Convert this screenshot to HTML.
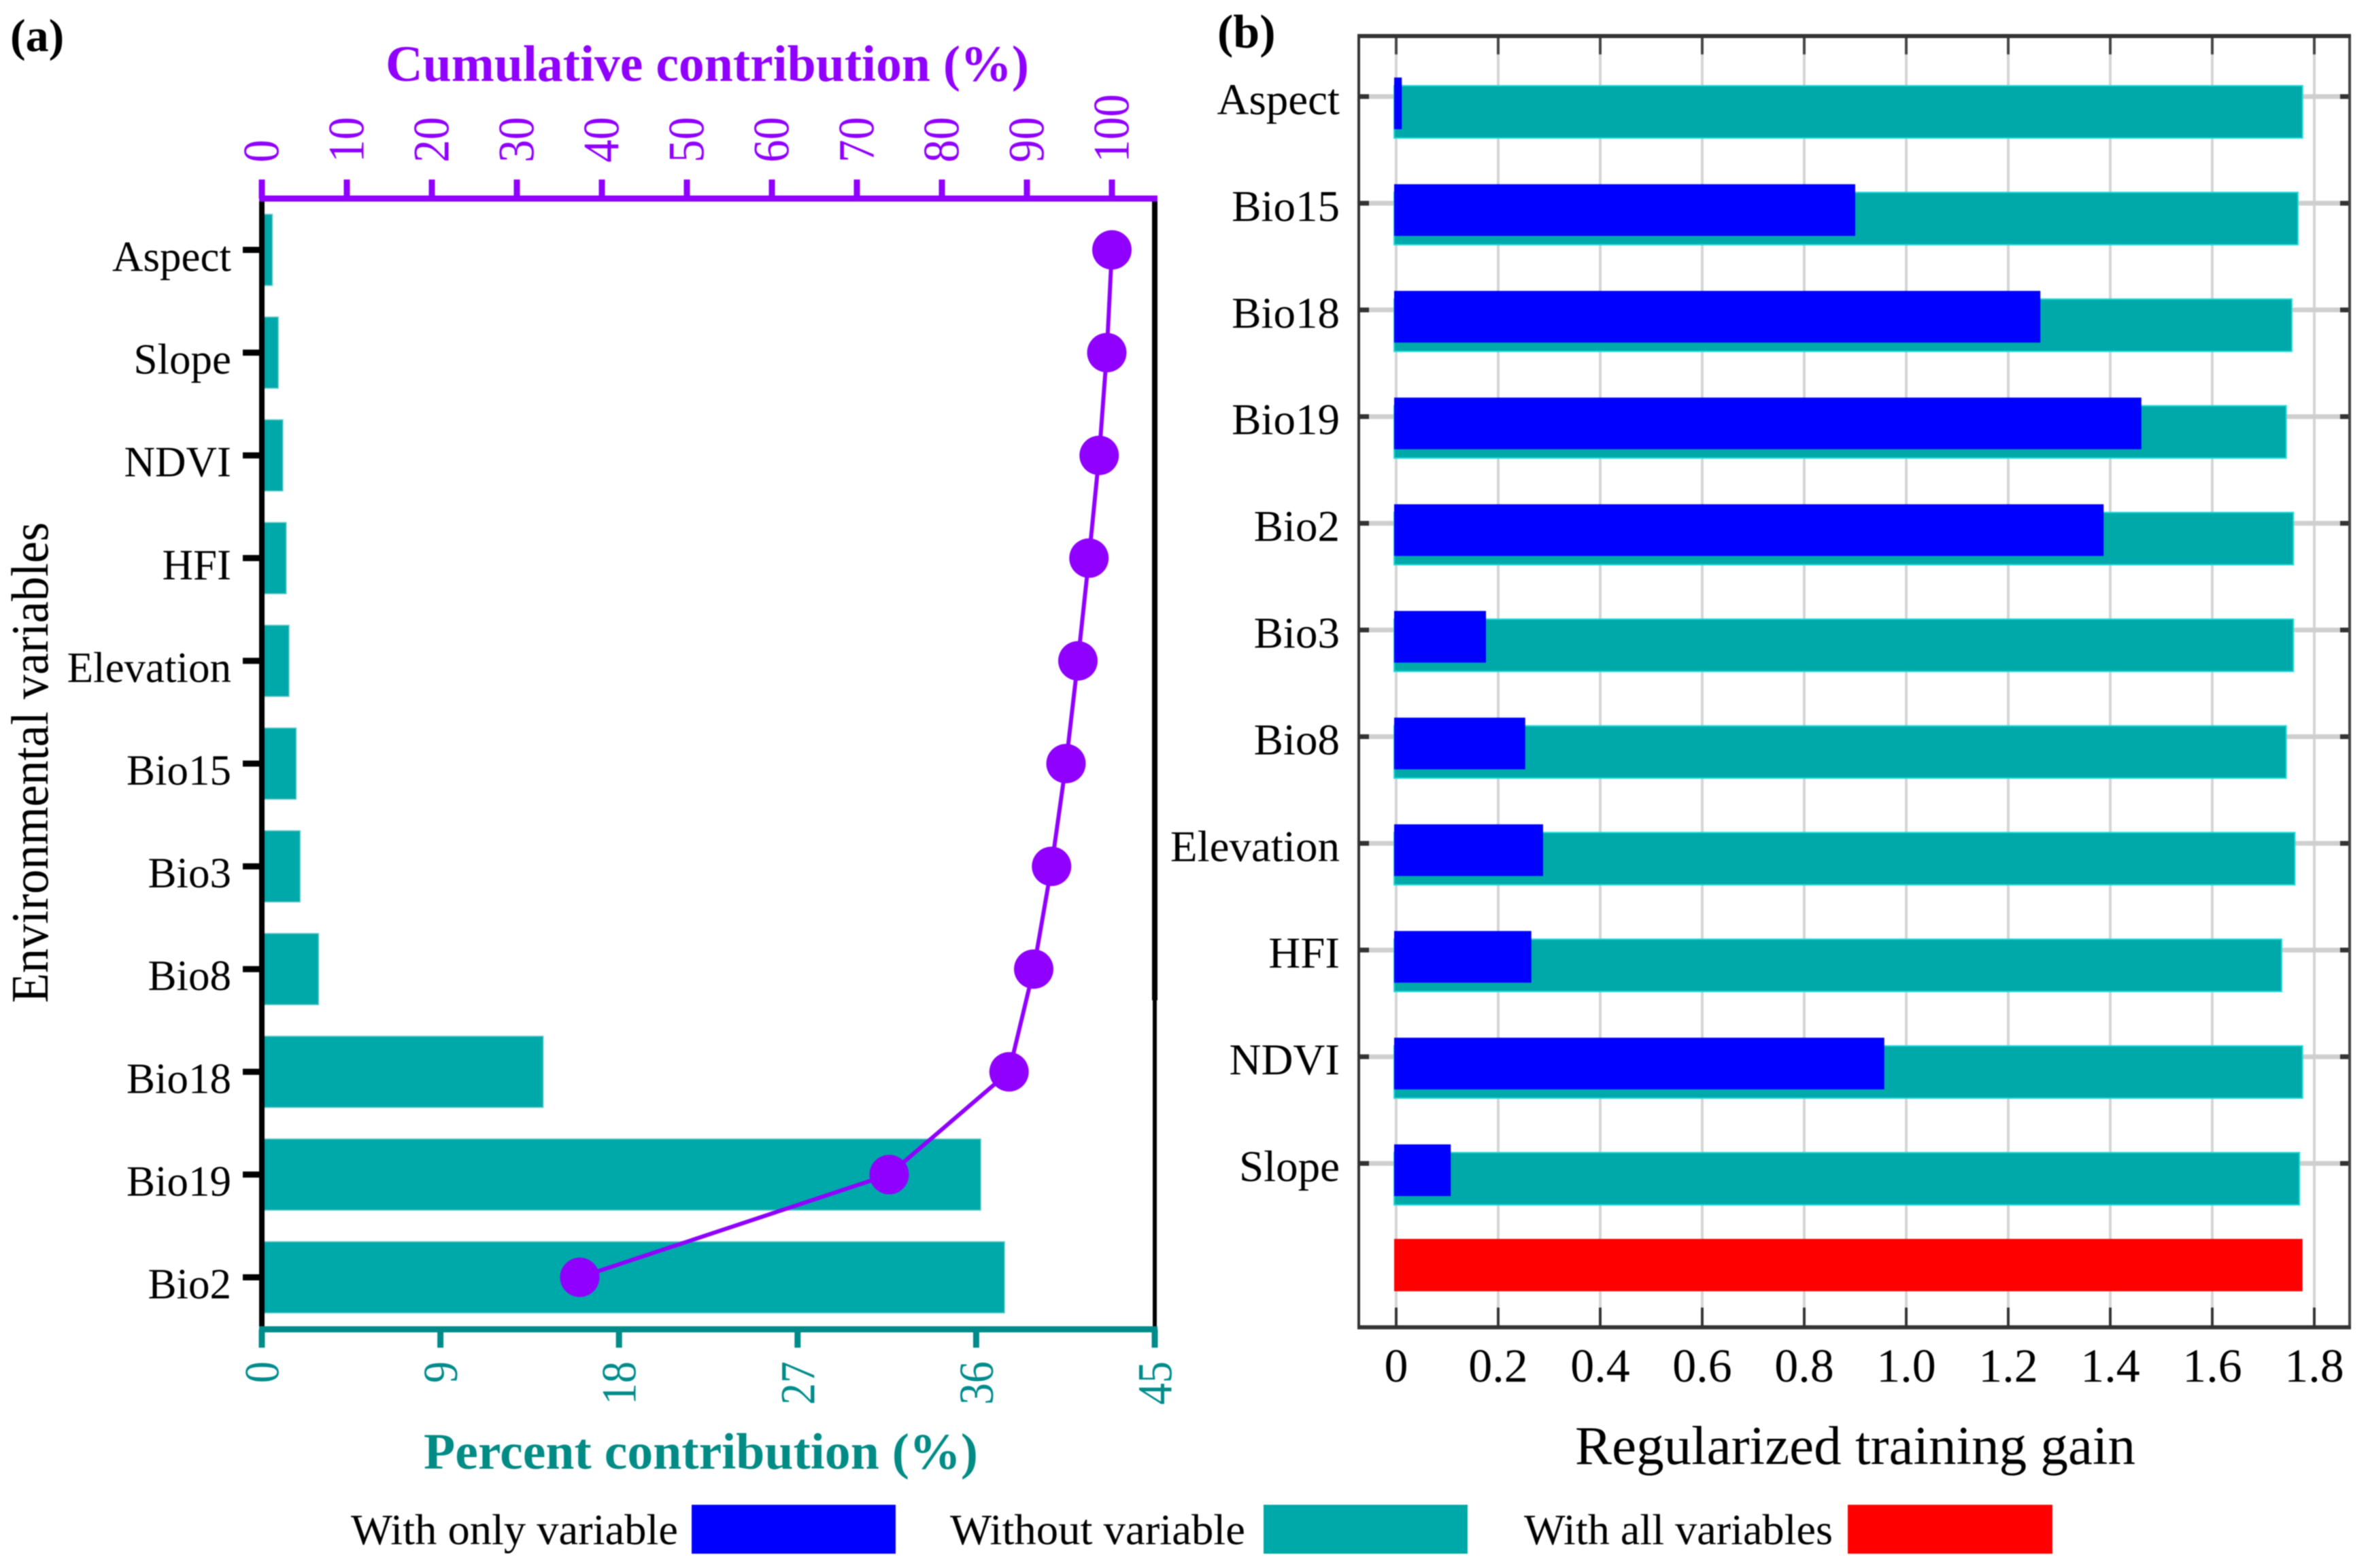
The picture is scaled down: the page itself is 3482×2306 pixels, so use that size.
<!DOCTYPE html>
<html lang="en">
<head>
<meta charset="utf-8">
<title>Environmental variable contribution and jackknife of regularized training gain</title>
<style>
html,body{margin:0;padding:0;background:#fff;width:3482px;height:2306px;overflow:hidden}
svg{display:block;filter:blur(0.9px)}
text{font-family:"Liberation Serif",serif;fill:#000}
</style>
</head>
<body>
<svg id="figure" xmlns="http://www.w3.org/2000/svg" width="3482" height="2306" viewBox="0 0 3482 2306">
  <rect x="0" y="0" width="3482" height="2306" fill="#fff"/>
  <g id="panelA"></g>
  <g id="panelB"></g>

  <text x="15" y="75" font-size="68" font-weight="bold">(a)</text>
  <text x="1790" y="70" font-size="70" font-weight="bold">(b)</text>

  <text x="567" y="119" font-size="75" font-weight="bold" style="fill:#8f00ff" textLength="946" lengthAdjust="spacingAndGlyphs">Cumulative contribution (%)</text>
  <text x="623" y="2160" font-size="75" font-weight="bold" style="fill:#008b85" textLength="815" lengthAdjust="spacingAndGlyphs">Percent contribution (%)</text>
  <text transform="translate(70,1475) rotate(-90) scale(1,1.08)" font-size="72" textLength="707" lengthAdjust="spacingAndGlyphs">Environmental variables</text>
  <text x="2316" y="2153" font-size="80" textLength="824" lengthAdjust="spacingAndGlyphs">Regularized training gain</text>

  <g>
    <text x="516" y="2271" font-size="64" textLength="481" lengthAdjust="spacingAndGlyphs">With only variable</text>
    <rect x="1017" y="2213" width="300" height="72" fill="#0000ff"/>
    <text x="1397" y="2271" font-size="64" textLength="434" lengthAdjust="spacingAndGlyphs">Without variable</text>
    <rect x="1858" y="2213" width="300" height="72" fill="#00a9a9"/>
    <text x="2241" y="2271" font-size="64" textLength="454" lengthAdjust="spacingAndGlyphs">With all variables</text>
    <rect x="2717" y="2213" width="301" height="72" fill="#ff0000"/>
  </g>
</svg>

<script>
// ---------- Panel (a) data ----------
const categoriesA = ['Aspect','Slope','NDVI','HFI','Elevation','Bio15','Bio3','Bio8','Bio18','Bio19','Bio2'];
const percentValues = [0.5,0.8,1.03,1.2,1.34,1.7,1.9,2.83,14.15,36.2,37.4];
const cumulativeValues = [100,99.4,98.5,97.3,96,94.6,92.9,90.8,87.9,73.8,37.4];
const percentTicks = [0,9,18,27,36,45];
const cumulativeTicks = [0,10,20,30,40,50,60,70,80,90,100];

// ---------- Panel (b) data ----------
const categoriesB = ['Aspect','Bio15','Bio18','Bio19','Bio2','Bio3','Bio8','Elevation','HFI','NDVI','Slope'];
const withoutValues = [1.777,1.768,1.756,1.745,1.759,1.759,1.745,1.762,1.736,1.777,1.771];
const withOnlyValues = [0.011,0.90,1.263,1.461,1.387,0.176,0.253,0.288,0.265,0.957,0.107];
const withAllValue = [1.777];
const gainTicks = [0,0.2,0.4,0.6,0.8,1.0,1.2,1.4,1.6,1.8];
const gainTickLabels = ['0','0.2','0.4','0.6','0.8','1.0','1.2','1.4','1.6','1.8'];

const SVGNS = 'http://www.w3.org/2000/svg';
function make(parent, tag, attrs, txt) {
  const el = document.createElementNS(SVGNS, tag);
  for (const k in attrs) el.setAttribute(k, attrs[k]);
  if (txt !== undefined) el.textContent = txt;
  parent.appendChild(el);
  return el;
}

// ---------- Panel (a) scales ----------
const xPercent = v => 385 + (v / 45) * 1313;
const xCumulative = v => 385 + v * 12.5;
const yRowA = i => 367.5 + i * 151.1;
const BAR_A_H = 105;
const PURPLE = '#8f00ff';
const TEAL_AXIS = '#008b8b';
const TEAL = '#00a9a9';

const panelA = document.getElementById('panelA');

categoriesA.forEach((name, i) => {
  const bar = make(panelA, 'rect', {
    x: xPercent(0), y: yRowA(i) - BAR_A_H / 2,
    width: xPercent(percentValues[i]) - xPercent(0) + 1, height: BAR_A_H,
    fill: TEAL, stroke: '#7fd0cf', 'stroke-width': 1.5
  });
  
  
});

// right border
const rightUpper = make(panelA, 'line', {x1: 1698, x2: 1698, y1: 292, y2: 1471, stroke: '#000', 'stroke-width': 8});


const rightLower = make(panelA, 'line', {x1: 1698, x2: 1698, y1: 1471, y2: 1955, stroke: '#000', 'stroke-width': 6});



// left axis
const leftAxis = make(panelA, 'line', {x1: 385, x2: 385, y1: 292, y2: 1955, stroke: '#000', 'stroke-width': 8});



categoriesA.forEach((name, i) => {
  const tick = make(panelA, 'line', {x1: 357, x2: 385, y1: yRowA(i), y2: yRowA(i), stroke: '#000', 'stroke-width': 9});
  
  
  const label = make(panelA, 'text', {x: 340, y: yRowA(i) + 31, 'font-size': 63, 'text-anchor': 'end'}, name);
  
  
});

// top axis
const topAxis = make(panelA, 'line', {x1: 381, x2: 1702, y1: 292, y2: 292, stroke: PURPLE, 'stroke-width': 9});


cumulativeTicks.forEach(t => {
  const x = xCumulative(t);
  const tick = make(panelA, 'line', {x1: x, x2: x, y1: 264, y2: 292, stroke: PURPLE, 'stroke-width': 9});
  
  
  const label = make(panelA, 'text', {
    transform: 'translate(' + (x + 24.5) + ',239) rotate(-90) scale(1,1.12)',
    'font-size': 67, style: 'fill:' + PURPLE
  }, String(t));
  
  
});

// bottom axis
const bottomAxis = make(panelA, 'line', {x1: 381, x2: 1702, y1: 1955, y2: 1955, stroke: TEAL_AXIS, 'stroke-width': 9});


percentTicks.forEach(t => {
  const x = xPercent(t);
  const tick = make(panelA, 'line', {x1: x, x2: x, y1: 1955, y2: 1982, stroke: TEAL_AXIS, 'stroke-width': 9});
  
  
  const label = make(panelA, 'text', {
    transform: 'translate(' + (x + 24.5) + ',2002) rotate(-90) scale(1,1.12)',
    'font-size': 64, 'text-anchor': 'end', style: 'fill:' + TEAL_AXIS
  }, String(t));
  
  
});

// cumulative line + markers
const linePoints = cumulativeValues.map((v, i) => xCumulative(v) + ',' + yRowA(i)).join(' ');
const cumLine = make(panelA, 'polyline', {points: linePoints, fill: 'none', stroke: PURPLE, 'stroke-width': 6});


cumulativeValues.forEach((v, i) => {
  const dot = make(panelA, 'circle', {cx: xCumulative(v), cy: yRowA(i), r: 29, fill: PURPLE});
  
  
});

// ---------- Panel (b) scales ----------
const xGain = v => 2053 + v * 750;
const yRowB = i => 142 + i * 156.9;
const panelB = document.getElementById('panelB');
const FRAME = {left: 1998, right: 3455, top: 53, bottom: 1952};

// vertical gridlines
gainTicks.forEach((t, i) => {
  const x = xGain(t);
  const grid = make(panelB, 'line', {x1: x, x2: x, y1: FRAME.top, y2: FRAME.bottom, stroke: '#d4d4d4', 'stroke-width': 4});
  
  
});
// horizontal gridlines + ticks
categoriesB.forEach((name, i) => {
  const y = yRowB(i);
  const grid = make(panelB, 'line', {x1: FRAME.left, x2: FRAME.right, y1: y, y2: y, stroke: '#cfcfcf', 'stroke-width': 7});
  
  
  const tl = make(panelB, 'line', {x1: FRAME.left, x2: FRAME.left + 15, y1: y, y2: y, stroke: '#333', 'stroke-width': 7});
  
  
  const tr = make(panelB, 'line', {x1: FRAME.right - 14, x2: FRAME.right, y1: y, y2: y, stroke: '#333', 'stroke-width': 7});
  
  
  const label = make(panelB, 'text', {x: 1979 - 9, y: y + 26, 'font-size': 65, 'text-anchor': 'end'}, name);
  
  
});
// vertical ticks + labels
gainTicks.forEach((t, i) => {
  const x = xGain(t);
  const tt = make(panelB, 'line', {x1: x, x2: x, y1: FRAME.top, y2: 80, stroke: '#444', 'stroke-width': 4});
  
  
  const tb = make(panelB, 'line', {x1: x, x2: x, y1: 1923, y2: FRAME.bottom, stroke: '#333', 'stroke-width': 4});
  
  
  const label = make(panelB, 'text', {x: x, y: 2032, 'font-size': 70, 'text-anchor': 'middle'}, gainTickLabels[i]);
  
  
});
// bars
categoriesB.forEach((name, i) => {
  const y = yRowB(i);
  const teal = make(panelB, 'rect', {
    x: xGain(0) - 3, y: y - 16, width: xGain(withoutValues[i]) - xGain(0) + 3, height: 77,
    fill: TEAL, stroke: '#22dcdc', 'stroke-width': 2
  });
  
  
  const blue = make(panelB, 'rect', {
    x: xGain(0) - 3, y: y - 28, width: xGain(withOnlyValues[i]) - xGain(0) + 3, height: 76,
    fill: '#0000ff'
  });
  
  
});
const redBar = make(panelB, 'rect', {
  x: xGain(0) - 3, y: 1822, width: xGain(withAllValue[0]) - xGain(0) + 3, height: 77, fill: '#ff0000'
});



// frame
const frameLeft = make(panelB, 'line', {x1: FRAME.left, x2: FRAME.left, y1: FRAME.top, y2: FRAME.bottom, stroke: '#333', 'stroke-width': 4});


const frameRight = make(panelB, 'line', {x1: FRAME.right, x2: FRAME.right, y1: FRAME.top, y2: FRAME.bottom, stroke: '#444', 'stroke-width': 4});


const frameTop = make(panelB, 'line', {x1: FRAME.left - 2, x2: FRAME.right + 2, y1: FRAME.top, y2: FRAME.top, stroke: '#333', 'stroke-width': 6});


const frameBottom = make(panelB, 'line', {x1: FRAME.left - 2, x2: FRAME.right + 2, y1: FRAME.bottom, y2: FRAME.bottom, stroke: '#333', 'stroke-width': 6});


</script>
</body>
</html>
